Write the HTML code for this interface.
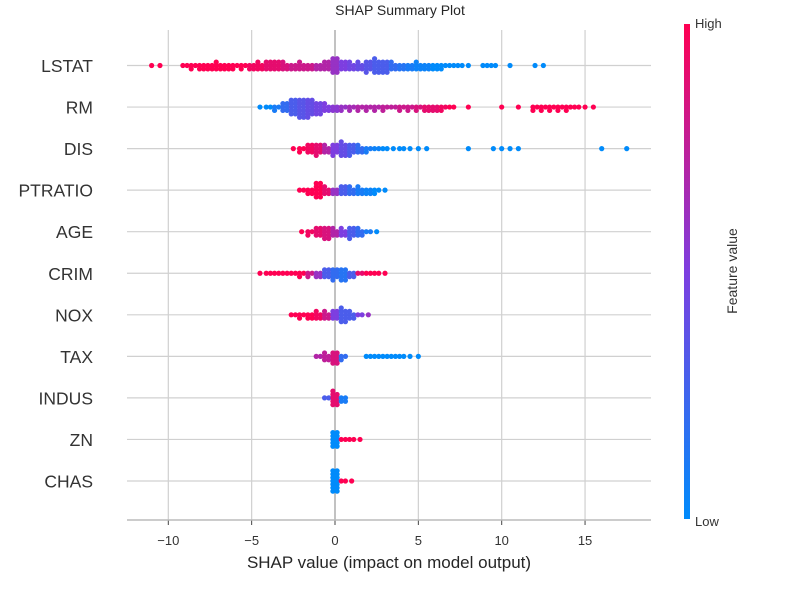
<!DOCTYPE html>
<html><head><meta charset="utf-8"><style>
body{margin:0;background:#fff;}
svg text{font-family:"Liberation Sans",sans-serif;}
</style></head><body>
<svg id="chart" width="800" height="590" xmlns="http://www.w3.org/2000/svg">
<defs><linearGradient id="cb" x1="0" y1="1" x2="0" y2="0">
<stop offset="0" stop-color="#008bfb"/><stop offset="0.5" stop-color="#7d3ee0"/><stop offset="1" stop-color="#ff0052"/></linearGradient></defs>
<text x="400" y="15" text-anchor="middle" font-size="14" fill="#262626">SHAP Summary Plot</text>
<g id="grid"></g>
<g id="dots"></g>
<g id="axes"></g>
<rect x="684" y="24" width="6" height="495" fill="url(#cb)"/>
<text x="695" y="28" font-size="13" fill="#333">High</text>
<text x="695" y="526" font-size="13" fill="#333">Low</text>
<text x="737" y="271" font-size="14" fill="#333" text-anchor="middle" transform="rotate(-90 737 271)">Feature value</text>
<text x="389" y="568" font-size="17" fill="#262626" text-anchor="middle">SHAP value (impact on model output)</text>
</svg>
<script>
const features = ["LSTAT","RM","DIS","PTRATIO","AGE","CRIM","NOX","TAX","INDUS","ZN","CHAS"];
const xTicks = [-10,-5,0,5,10,15];
const lstatX = [-11,-10.5,-9,-8.5,-8,-7.5,-7,-6.5,-6,-5.5,-5,-4.5,-4,-3.5,-3,-2.5,-2,-1.5,-1,-0.5,0,0.5,1,1.5,2,2.5,3,3.5,4,4.5,5,5.5,6,6.5,7,7.5,8,9,9.5,10.5,12,12.5];
const lstatN = [1,1,2,3,4,4,5,4,3,3,4,5,6,6,5,4,5,4,4,6,10,6,5,5,7,9,8,5,4,4,5,4,4,3,2,2,1,2,2,1,1,1];
const lstatC = [1,1,1,1,1,1,1,1,1,1,0.95,0.95,0.9,0.9,0.85,0.8,0.8,0.8,0.7,0.7,0.6,0.5,0.45,0.4,0.35,0.3,0.3,0.2,0.15,0.1,0.05,0.05,0,0,0,0,0,0,0,0,0,0];
const rmX = [-4.5,-4,-3.5,-3,-2.5,-2,-1.5,-1,-0.5,0,0.5,1,1.5,2,2.5,3,3.5,4,4.5,5,5.5,6,6.5,7,8,10,11,12,12.5,13,13.5,14,14.5,15,15.5];
const rmN = [1,2,3,6,10,12,11,8,5,4,3,3,3,3,3,3,2,3,3,3,4,4,3,2,1,1,1,3,3,3,3,3,2,1,1];
const rmC = [0,0,0.1,0.2,0.3,0.35,0.4,0.45,0.5,0.55,0.6,0.65,0.7,0.7,0.7,0.75,0.75,0.8,0.8,0.85,0.9,0.9,0.95,1,1,1,1,1,1,1,1,1,1,1,1];
const disX = [-2.5,-2,-1.5,-1,-0.5,0,0.5,1,1.5,2,2.5,3,3.5,4,4.5,5,5.5,8,9.5,10,10.5,11,16,17.5];
const disN = [1,3,6,7,5,7,9,7,5,3,2,2,1,2,1,1,1,1,1,1,1,1,1,1];
const disC = [1,1,0.95,0.9,0.7,0.5,0.4,0.3,0.2,0.1,0.05,0,0,0,0,0,0,0,0,0,0,0,0,0];
const ptX = [-2,-1.5,-1,-0.5,0,0.5,1,1.5,2,2.5,3];
const ptN = [2,4,10,5,4,6,5,5,4,3,1];
const ptC = [1,1,1,0.9,0.6,0.3,0.2,0.1,0.05,0,0];
const ageX = [-2,-1.5,-1,-0.5,0,0.5,1,1.5,2,2.5];
const ageN = [1,3,6,8,5,5,7,5,2,1];
const ageC = [1,0.95,0.9,0.85,0.7,0.5,0.3,0.2,0.1,0];
const crimX = [-4.5,-4,-3.5,-3,-2.5,-2,-1.5,-1,-0.5,0,0.5,1,1.5,2,2.5,3];
const crimN = [1,2,2,2,2,3,3,4,6,7,8,4,2,2,2,1];
const crimC = [1,1,1,1,1,1,0.8,0.6,0.3,0.2,0.15,0.3,0.9,1,1,1];
const noxX = [-2.5,-2,-1.5,-1,-0.5,0,0.5,1,1.5,2];
const noxN = [2,3,4,5,5,6,9,5,2,1];
const noxC = [1,1,1,0.95,0.8,0.5,0.3,0.3,0.5,0.6];
const taxX = [-1,-0.5,0,0.5,2,2.5,3,3.5,4,4.5,5];
const taxN = [2,5,8,3,2,2,2,2,2,1,1];
const taxC = [0.7,0.75,0.85,0.2,0,0,0,0,0,0,0];
const indusX = [-0.5,0,0.5];
const indusN = [2,9,4];
const indusC = [0.3,0.9,0.1];
const znX = [0,0.5,1,1.5];
const znN = [10,2,2,1];
const znC = [0,1,1,1];
const chasX = [0,0.5,1];
const chasN = [14,2,1];
const chasC = [0,1,1];
const rowsX = [lstatX,rmX,disX,ptX,ageX,crimX,noxX,taxX,indusX,znX,chasX];
const rowsN = [lstatN,rmN,disN,ptN,ageN,crimN,noxN,taxN,indusN,znN,chasN];
const rowsC = [lstatC,rmC,disC,ptC,ageC,crimC,noxC,taxC,indusC,znC,chasC];

const NS="http://www.w3.org/2000/svg";
const x = v => 335 + v*16.67;
const y = i => 65.5 + i*41.55;
const L=127,R=651,B=520;
function col(t){
  const a=[0,139,251],m=[125,62,224],b=[255,0,82];
  let p,q,s; if(t<0.5){p=a;q=m;s=t*2;}else{p=m;q=b;s=(t-0.5)*2;}
  return `rgb(${p.map((v,k)=>Math.round(v+(q[k]-v)*s)).join(',')})`;
}
function mk(tag,attrs,parent){const e=document.createElementNS(NS,tag);for(const k in attrs)e.setAttribute(k,attrs[k]);parent.appendChild(e);return e;}
const grid=document.getElementById('grid'),axes=document.getElementById('axes'),dots=document.getElementById('dots');
xTicks.forEach(t=>{
  const g=mk('line',{x1:x(t),x2:x(t),y1:30,y2:B,stroke:t===0?'#999':'#d0d0d0','stroke-width':1.2},grid);
  
  
  const tk=mk('line',{x1:x(t),x2:x(t),y1:B,y2:B+5,stroke:'#444','stroke-width':1},axes);
  
  
  const tl=mk('text',{x:x(t),y:B+25,'text-anchor':'middle','font-size':13,fill:'#333'},axes);
  tl.textContent=(t<0?'\u2212'+(-t):t);
  
  
});
features.forEach((f,i)=>{
  const g=mk('line',{x1:L,x2:R,y1:y(i),y2:y(i),stroke:'#d0d0d0','stroke-width':1.2},grid);
  
  
  const t=mk('text',{x:93,y:y(i)+6.5,'text-anchor':'end','font-size':17.5,fill:'#333'},axes);
  t.textContent=f;
  
  
  const xs=rowsX[i],ns=rowsN[i],cs=rowsC[i];
  xs.forEach((v,j)=>{
    const n=ns[j];
    for(let k=0;k<n;k++){
      const colIdx=n>1?(k%2):0.5;
      const jit=(colIdx-0.5)*4.2;
      const s=Math.floor(k/2);
      const off=(s%2?1:-1)*Math.ceil(s/2)*3.4;
      const c=mk('circle',{cx:x(v)+jit,cy:y(i)+off,r:2.6,fill:col(cs[j])},dots);
      
      
    }
  });
});
const ax=mk('line',{x1:L,x2:R,y1:B,y2:B,stroke:'#bbb','stroke-width':1.5},axes);


</script>
</body></html>
